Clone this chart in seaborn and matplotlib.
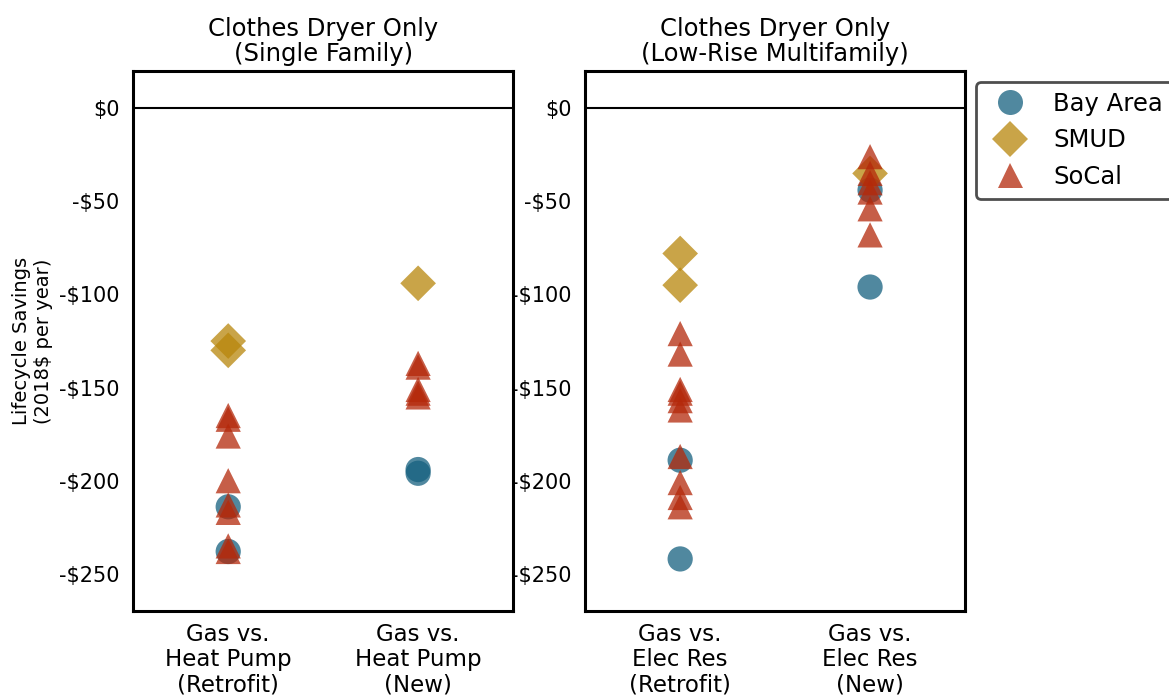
import numpy as np
import pandas as pd
import matplotlib
matplotlib.use("Agg")
import matplotlib.pyplot as plt
from matplotlib.lines import Line2D
import seaborn as sns

# ---- data ----
regions = ["Bay Area", "SMUD", "SoCal"]
sf_categories = ["Gas vs.\nHeat Pump\n(Retrofit)", "Gas vs.\nHeat Pump\n(New)"]
mf_categories = ["Gas vs.\nElec Res\n(Retrofit)", "Gas vs.\nElec Res\n(New)"]
titles = ["Clothes Dryer Only\n(Single Family)", "Clothes Dryer Only\n(Low-Rise Multifamily)"]

sf_retro_bay = [-214, -238]
sf_retro_smud = [-125, -130]
sf_retro_socal = [-165, -167, -176, -200, -213, -217, -235, -238]
sf_new_bay = [-194, -196]
sf_new_smud = [-94]
sf_new_socal = [-137, -139, -151, -153, -155]

mf_retro_bay = [-189, -242]
mf_retro_smud = [-78, -95]
mf_retro_socal = [-121, -132, -151, -153, -157, -162, -187, -201, -209, -214]
mf_new_bay = [-44, -96]
mf_new_smud = [-35]
mf_new_socal = [-26, -35, -40, -45, -54, -68]

yticks = [0, -50, -100, -150, -200, -250]
ytick_labels = ["$0", "-$50", "-$100", "-$150", "-$200", "-$250"]

palette = {"Bay Area": "#16607F", "SMUD": "#B8860B", "SoCal": "#B4280A"}
markers = {"Bay Area": "o", "SMUD": "D", "SoCal": "^"}


def build(cats, groups):
    rows = []
    for cat, per_region in zip(cats, groups):
        for reg, vals in zip(regions, per_region):
            for v in vals:
                rows.append({"cat": cat, "region": reg, "value": v})
    df = pd.DataFrame(rows)
    df["cat"] = pd.Categorical(df["cat"], categories=cats, ordered=True)
    return df


sf_df = build(sf_categories, [[sf_retro_bay, sf_retro_smud, sf_retro_socal],
                              [sf_new_bay, sf_new_smud, sf_new_socal]])
mf_df = build(mf_categories, [[mf_retro_bay, mf_retro_smud, mf_retro_socal],
                              [mf_new_bay, mf_new_smud, mf_new_socal]])

sns.set_style("white")
plt.rcParams["font.family"] = ["DejaVu Sans"]
plt.rcParams.update({"text.color": "black", "axes.labelcolor": "black",
                     "xtick.color": "black", "ytick.color": "black"})

fig, axes = plt.subplots(1, 2, figsize=(11.69, 6.96), dpi=100)
fig.subplots_adjust(left=0.114, right=0.8255, top=0.898, bottom=0.122, wspace=0.19)

for ax, df, cats, title in zip(axes, [sf_df, mf_df], [sf_categories, mf_categories], titles):
    ax.axhline(0, color="black", lw=1.5, zorder=1)
    sns.scatterplot(data=df, x="cat", y="value", hue="region", style="region",
                    hue_order=regions, style_order=regions,
                    palette=palette, markers=markers, s=330, alpha=0.75,
                    linewidth=0, ax=ax, legend=False, zorder=3)
    ax.set_xlim(-0.5, 1.5)
    ax.set_ylim(-270, 20)
    ax.set_xticks([0, 1])
    ax.set_xticklabels(cats, fontsize=16.5, color="black", linespacing=1.13)
    ax.set_yticks(yticks)
    ax.set_yticklabels(ytick_labels, fontsize=15, color="black")
    ax.set_xlabel("")
    ax.set_ylabel("")
    ax.set_title(title, fontsize=17.5, pad=7, color="black", linespacing=1.05)
    for sp in ax.spines.values():
        sp.set_visible(True)
        sp.set_color("black")
        sp.set_linewidth(2.2)
    ax.tick_params(axis="y", direction="out", length=7, width=2, color="black", pad=3)
    ax.tick_params(axis="x", direction="out", length=4, width=1, color="#444444", pad=4.5)

axes[0].set_ylabel("Lifecycle Savings\n(2018$ per year)", fontsize=14, labelpad=4, color="black")

handles = [Line2D([0], [0], marker=markers[r], color="none", markerfacecolor=palette[r],
                  markeredgewidth=0, markersize=18, alpha=0.75, label=r) for r in regions]
leg = axes[1].legend(handles=handles, loc="upper left", bbox_to_anchor=(1.03, 0.98),
                     fontsize=17.5, frameon=True, fancybox=True, borderpad=0.4,
                     handletextpad=0.75, labelspacing=0.52, borderaxespad=0)
leg.get_frame().set_edgecolor("#222222")
leg.get_frame().set_linewidth(2)
for t in leg.get_texts():
    t.set_color("black")

fig.savefig("out.png", dpi=100)
